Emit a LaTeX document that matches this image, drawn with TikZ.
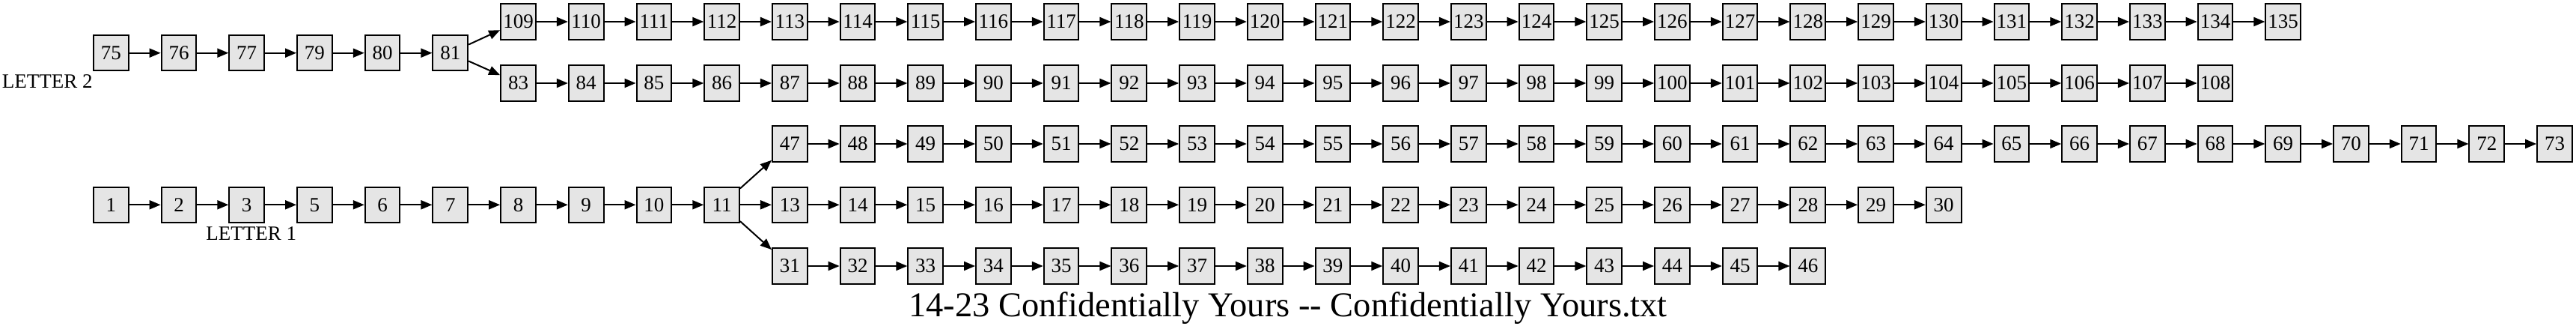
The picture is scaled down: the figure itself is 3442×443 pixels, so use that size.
\documentclass[tikz,border=0pt]{standalone}
\usepackage{fontspec}
\setmainfont{Liberation Serif}
\usetikzlibrary{arrows.meta,positioning}
\definecolor{boxfill}{HTML}{E5E5E5}
\definecolor{stroke}{HTML}{000000}

\begin{document}
\begin{tikzpicture}[
  x=0.5pt,y=0.5pt,>={Triangle[length=7.5pt,width=6pt]},
  node distance=21pt,
  pnode/.style={draw=stroke, line width=1pt, fill=boxfill, minimum width=23.35pt, minimum height=23.65pt, inner sep=0pt, font=\fontsize{13.5}{16}\selectfont},
  tag/.style={inner sep=0pt, font=\fontsize{13.5}{16}\selectfont},
  link/.style={->, draw=stroke, line width=1pt},
]
\useasboundingbox (0,0) rectangle (3442,443);
% (a) letter 2: trunk, then two branches after 81
\node[pnode] (n75) at (148.3,372.3) {75};
\node[tag, anchor=north east] (letter2) at ([yshift=-2pt]n75.south west) {LETTER 2};
\foreach \n [remember=\n as \p (initially 75)] in {76,77,79,80,81} {
  \node[pnode, right=of n\p] (n\n) {\n};
  \draw[link] (n\p) -- (n\n);
}
\node[pnode, right=of n81, yshift=20.85pt] (n109) {109};
\node[pnode, right=of n81, yshift=-20.15pt] (n83) {83};
\draw[link] (n81) -- (n109);
\draw[link] (n81) -- (n83);
\foreach \n [remember=\n as \p (initially 109)] in {110,...,135} {
  \node[pnode, right=of n\p] (n\n) {\n};
  \draw[link] (n\p) -- (n\n);
}
\foreach \n [remember=\n as \p (initially 83)] in {84,...,108} {
  \node[pnode, right=of n\p] (n\n) {\n};
  \draw[link] (n\p) -- (n\n);
}
% (b) letter 1: trunk, then three branches after 11
\node[pnode] (n1) at (148.3,169.7) {1};
\foreach \n [remember=\n as \p (initially 1)] in {2,3,5,6,7,8,9,10,11} {
  \node[pnode, right=of n\p] (n\n) {\n};
  \draw[link] (n\p) -- (n\n);
}
\node[tag, anchor=north] (letter1) at ([xshift=3pt,yshift=-2pt]n3.south) {LETTER 1};
\node[pnode, right=of n11, yshift=40.65pt] (n47) {47};
\node[pnode, right=of n11] (n13) {13};
\node[pnode, right=of n11, yshift=-40.85pt] (n31) {31};
\draw[link] (n11) -- (n47);
\draw[link] (n11) -- (n13);
\draw[link] (n11) -- (n31);
\foreach \n [remember=\n as \p (initially 47)] in {48,...,73} {
  \node[pnode, right=of n\p] (n\n) {\n};
  \draw[link] (n\p) -- (n\n);
}
\foreach \n [remember=\n as \p (initially 13)] in {14,...,30} {
  \node[pnode, right=of n\p] (n\n) {\n};
  \draw[link] (n\p) -- (n\n);
}
\foreach \n [remember=\n as \p (initially 31)] in {32,...,46} {
  \node[pnode, right=of n\p] (n\n) {\n};
  \draw[link] (n\p) -- (n\n);
}
% (c) title
\node[anchor=base, inner sep=0pt, font=\fontsize{23.25}{28}\selectfont] (title) at (1721,20.3)
  {14-23 Confidentially Yours -{}- Confidentially Yours.txt};
\end{tikzpicture}
\end{document}
